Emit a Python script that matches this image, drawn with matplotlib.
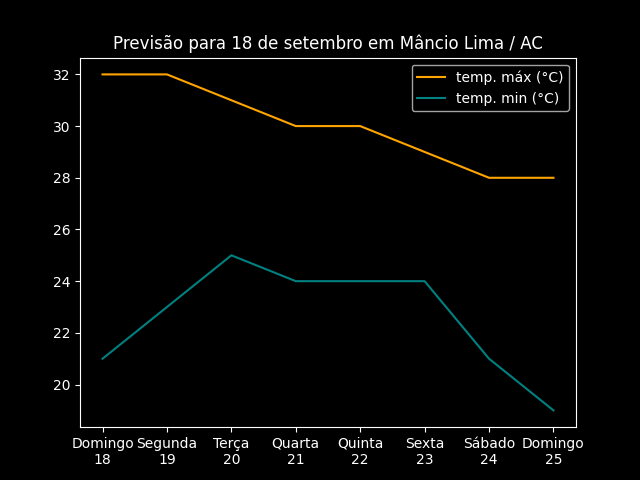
import matplotlib
matplotlib.use("Agg")
import matplotlib.pyplot as plt

plt.style.use("dark_background")

days = ["Domingo\n18", "Segunda\n19", "Terça\n20", "Quarta\n21", "Quinta\n22", "Sexta\n23", "Sábado\n24", "Domingo\n25"]
temp_max = [32, 32, 31, 30, 30, 29, 28, 28]
temp_min = [21, 23, 25, 24, 24, 24, 21, 19]

fig, ax = plt.subplots(figsize=(6.4, 4.8), dpi=100)
x = list(range(len(days)))
ax.plot(x, temp_max, color="orange", label="temp. máx (°C)")
ax.plot(x, temp_min, color="teal", label="temp. min (°C)")
ax.set_xticks(x)
ax.set_xticklabels(days)
ax.set_title("Previsão para 18 de setembro em Mâncio Lima / AC")
ax.legend(loc="upper right")
fig.savefig("out.png")
